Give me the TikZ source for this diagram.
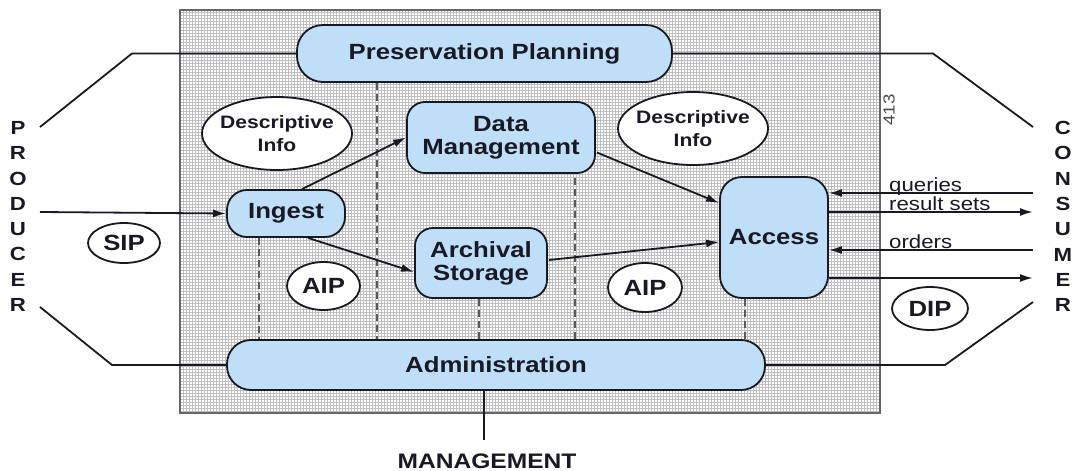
\documentclass[tikz,border=0pt]{standalone}
\usepackage{fontspec}
\setmainfont{Liberation Sans}[FakeStretch=1.17]
\usetikzlibrary{shapes.geometric,arrows.meta,calc}
\definecolor{nodeblue}{RGB}{191,223,248}
\definecolor{ink}{RGB}{25,25,35}
\tikzset{
  proc/.style={draw=ink, line width=1.8pt, fill=nodeblue, align=center, inner sep=0pt,
    font=\fontsize{22}{23}\selectfont\bfseries, text=ink},
  ell/.style={ellipse, draw=ink, line width=1.8pt, fill=white, align=center, text=ink},
  infoell/.style={ell, inner xsep=-4pt, inner ysep=0pt, minimum width=150pt, minimum height=73pt,
    font=\fontsize{18}{22.5}\selectfont\bfseries},
  pkgell/.style={ell, inner sep=0pt, font=\fontsize{22}{23}\selectfont\bfseries},
  conn/.style={draw=ink, line width=1.8pt},
  arr/.style={conn, -{Latex[length=13pt,width=8pt]}},
  dline/.style={draw=black!65, line width=1.8pt, dash pattern=on 7pt off 4pt},
  letters/.style={align=center, inner sep=0pt, font=\fontsize{19}{25.3}\selectfont\bfseries, text=ink},
  lbl/.style={anchor=base west, inner sep=0pt, font=\fontsize{19}{20}\selectfont, text=ink}
}
\begin{document}
\begin{tikzpicture}[x=1pt,y=-1pt]
\useasboundingbox (0,0) rectangle (1072,471);

% background box with grid texture
\fill[white] (180,10) rectangle (880,413);
\draw[gray!50, line width=0.9pt] (180,10) grid[step=3pt] (880,413);
\draw[draw=black!60, line width=2pt] (180,10) rectangle (880,413);
\node[rotate=90, inner sep=0pt, font=\fontsize{16}{16}\selectfont, text=black!70] (num) at (889,110) {413};

% free ends of outer connectors
\coordinate (pl1) at (132,53.5);
\coordinate (pl2) at (40,127);
\coordinate (pr1) at (933,53.5);
\coordinate (pr2) at (1033,127);
\coordinate (al1) at (112,365);
\coordinate (al2) at (40,307);
\coordinate (ar1) at (945,365);
\coordinate (ar2) at (1033,302);
\coordinate (prodin) at (40,212);
\coordinate (mg) at (484,440);

% process nodes
\node[proc, minimum width=375pt, minimum height=57pt, rounded corners=26pt] (pp) at (484.5,53.5) {Preservation Planning};
\node[proc, minimum width=118pt, minimum height=47pt, rounded corners=20pt] (ingest) at (286,213.5) {Ingest};
\node[proc, minimum width=188pt, minimum height=71pt, rounded corners=18pt] (dm) at (501,137.5) {Data\\Management};
\node[proc, minimum width=132pt, minimum height=70pt, rounded corners=18pt] (as) at (481,263) {Archival\\Storage};
\node[proc, minimum width=108pt, minimum height=121pt, rounded corners=22pt] (access) at (774,237.5) {Access};
\node[proc, minimum width=538pt, minimum height=50pt, rounded corners=24pt] (admin) at (496,365) {Administration};

% info ellipses
\node[infoell] (di1) at (277,133.5) {Descriptive\\Info};
\node[infoell] (di2) at (693,128.5) {Descriptive\\Info};
\node[pkgell, minimum width=72pt, minimum height=40pt] (sip) at (124,243) {SIP};
\node[pkgell, minimum width=73pt, minimum height=48pt] (aip1) at (323.5,286) {AIP};
\node[pkgell, minimum width=74pt, minimum height=49pt] (aip2) at (645,287.5) {AIP};
\node[pkgell, minimum width=76pt, minimum height=43pt] (dip) at (930,308.5) {DIP};

% side labels
\node[letters] (producer) at (18,216.5) {P\\R\\O\\D\\U\\C\\E\\R};
\node[letters] (consumer) at (1063,216.5) {C\\O\\N\\S\\U\\M\\E\\R};
\node[inner sep=0pt, font=\fontsize{21}{22}\selectfont\bfseries, text=ink] (mgmt) at (487,461) {MANAGEMENT};

% outer lines
\draw[conn] (pp.west) -- (pl1) -- (pl2);
\draw[conn] (pp.east) -- (pr1) -- (pr2);
\draw[conn] (admin.west) -- (al1) -- (al2);
\draw[conn] (admin.east) -- (ar1) -- (ar2);
\draw[conn] ($(admin.south)+(-12,0)$) -- (mg);
\draw[arr] (prodin) -- (ingest.west);

% dashed verticals
\draw[dline] ($(pp.south west)+(81,0)$) coordinate (d1) -- (d1 |- admin.north);
\draw[dline] ($(ingest.south)+(-27,0)$) coordinate (d2) -- (d2 |- admin.north);
\draw[dline] ($(dm.south)+(74,4)$) coordinate (d3) -- (d3 |- admin.north);
\draw[dline] ($(as.south)+(-2,0)$) coordinate (d4) -- (d4 |- admin.north);
\draw[dline] ($(access.south)+(-29,0)$) coordinate (d5) -- (d5 |- admin.north);

% internal arrows
\draw[arr] ($(ingest.north)+(16,0)$) -- (dm.west);
\draw[arr] ($(dm.east)+(1,15)$) -- ($(access.west)+(0,-34.5)$);
\draw[arr] ($(ingest.south)+(22,0)$) -- ($(as.west)+(0,9)$);
\draw[arr] ($(as.east)+(1,-3)$) -- ($(access.west)+(0,4.5)$);

% consumer side flows
\coordinate (q) at (1033,193);
\coordinate (r) at (1033,212);
\coordinate (o) at (1033,250);
\coordinate (d) at (1033,278);
\draw[arr] (q) -- (q -| access.east);
\draw[arr] (r -| access.east) -- (r);
\draw[arr] (o) -- (o -| access.east);
\draw[arr] (d -| access.east) -- (d);
\node[lbl] (lq) at (889,191) {queries};
\node[lbl] (lr) at (889,210) {result sets};
\node[lbl] (lo) at (889,248) {orders};
\end{tikzpicture}
\end{document}
